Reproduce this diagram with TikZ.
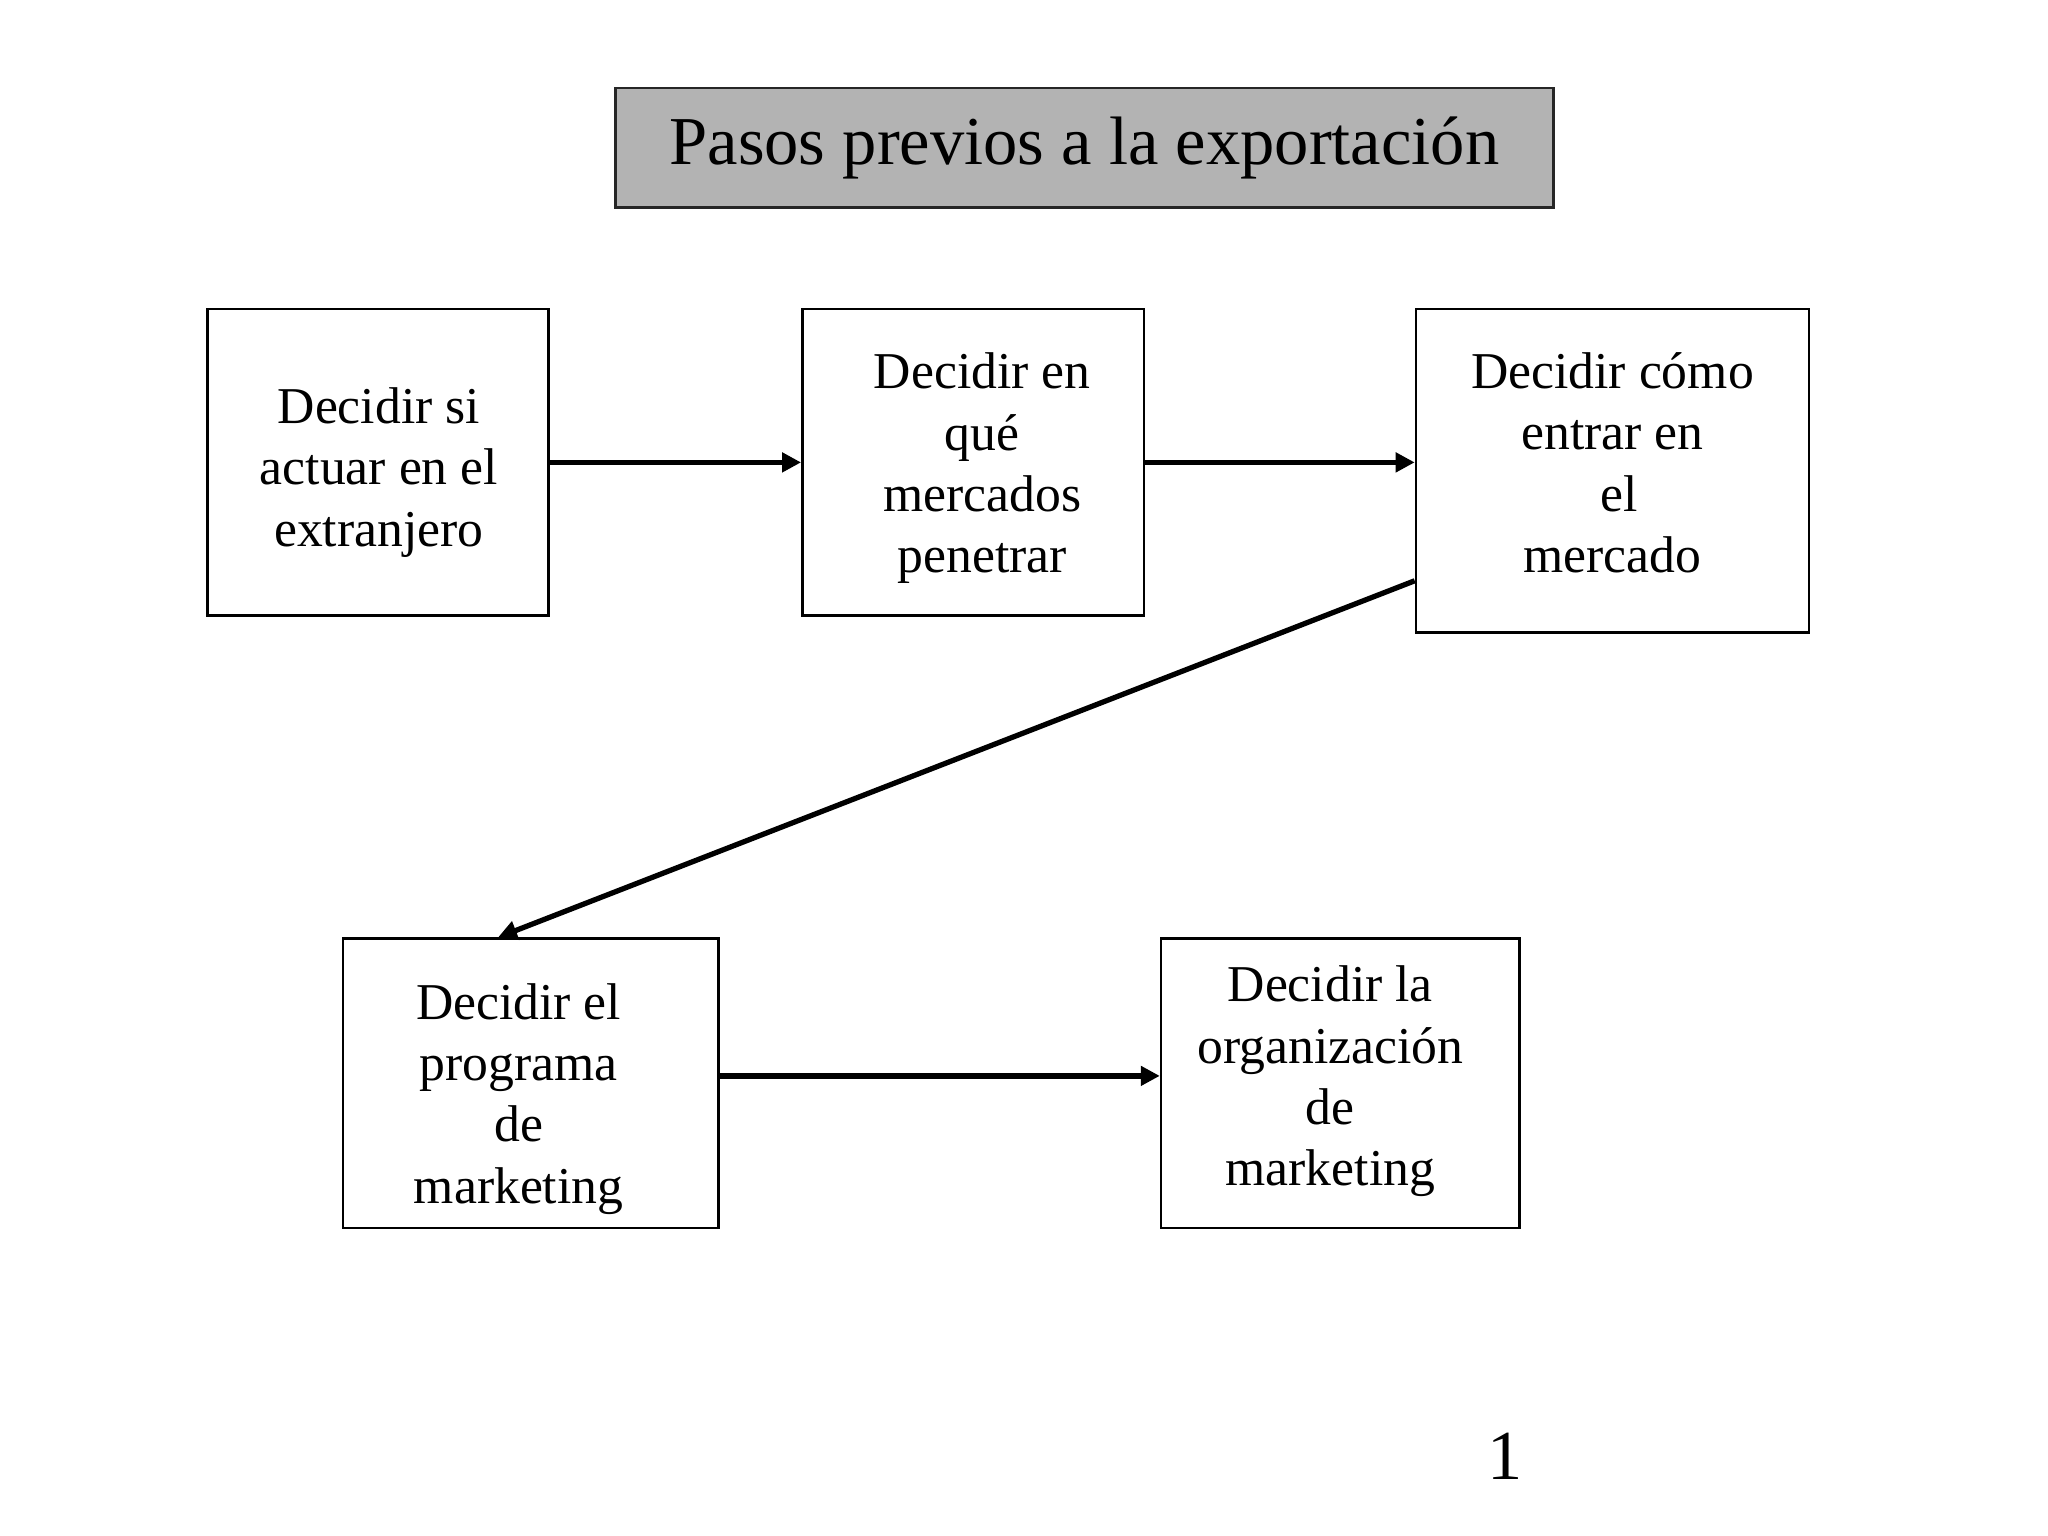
\documentclass[tikz,border=0pt]{standalone}
\usepackage{fontspec}
\setmainfont{Liberation Serif}
\usepackage{xcolor}
\usetikzlibrary{arrows.meta}
\definecolor{titleGray}{HTML}{B3B3B3}

\begin{document}
\begin{tikzpicture}[
    box/.style={rectangle, draw=black, line width=0.7pt, fill=white, inner sep=0pt},
    boxtext/.style={align=center, inner sep=0pt, font=\fontsize{14.7pt}{17.45pt}\selectfont},
    title/.style={rectangle, draw=black!85, line width=0.8pt, fill=titleGray, minimum width=9.376cm, minimum height=1.195cm, font=\fontsize{19.5pt}{23pt}\selectfont},
    arrow/.style={-{Triangle[length=1.9mm,width=1.9mm]}, line width=1.5pt, color=black}
]
\useasboundingbox (0,0) rectangle (20.48,-15.36);

% Title
\node[title] (title) at (10.844,-1.477) {Pasos previos a la exportaci\'on};

% Steps, top row
\node[box, minimum width=3.409cm, minimum height=3.063cm] (abroad) at (3.779,-4.624) {};
\node[box, minimum width=3.418cm, minimum height=3.063cm] (markets) at (9.732,-4.624) {};
\node[box, minimum width=3.932cm, minimum height=3.231cm] (entry) at (16.125,-4.708) {};

% Steps, bottom row
\node[box, minimum width=3.754cm, minimum height=2.895cm] (program) at (5.306,-10.834) {};
\node[box, minimum width=3.586cm, minimum height=2.895cm] (organization) at (13.403,-10.834) {};

% Texts
\node[boxtext] (abroad-text) at ([xshift=0.01cm, yshift=-0.10cm]abroad) {Decidir si\\actuar en el\\extranjero};
\node[boxtext] (markets-text) at ([xshift=0.09cm, yshift=-0.06cm]markets) {Decidir en\\qu\'e\\mercados\\penetrar};
\node[boxtext] (entry-text) at ([yshift=0.08cm]entry) {Decidir c\'omo\\entrar en\\\ el\\mercado};
\node[boxtext] (program-text) at ([xshift=-0.12cm, yshift=-0.155cm]program) {Decidir el\\programa\\de\\marketing};
\node[boxtext] (organization-text) at ([xshift=-0.10cm, yshift=0.02cm]organization) {Decidir la\\organizaci\'on\\de\\marketing};

% Connections
\draw[arrow] (abroad.east) -- (markets.west);
\draw[arrow] (markets.east) -- (markets.east -| entry.west);
\draw[arrow] ([yshift=-1.10cm]entry.west) -- ([xshift=-0.326cm]program.north);
\draw[arrow] ([yshift=0.75mm]program.east) -- ([yshift=0.75mm]organization.west);

% Page number
\node[font=\fontsize{20pt}{24pt}\selectfont] (page) at (15.05,-14.56) {1};

\end{tikzpicture}
\end{document}
